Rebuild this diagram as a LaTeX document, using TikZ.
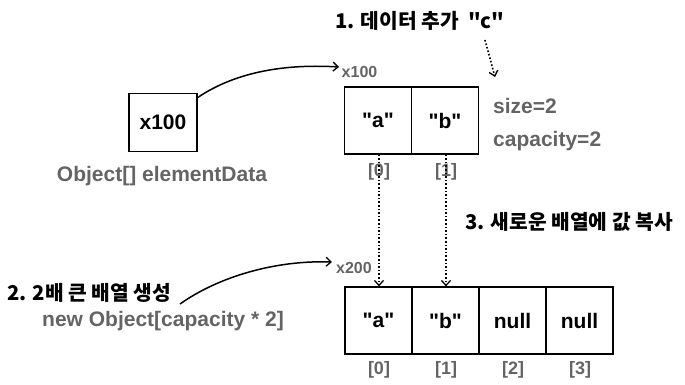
\documentclass[tikz,border=0pt]{standalone}
\usepackage{fontspec}
\setmainfont{Liberation Sans}[Ligatures=TeXOff]
\newfontfamily\kr{Noto Sans CJK KR}[Ligatures=TeXOff]
\usetikzlibrary{arrows.meta}
\definecolor{txtgray}{HTML}{646464}
\begin{document}
\begin{tikzpicture}[x=1pt,y=-1pt,
  cell/.style={draw=black,line width=1.2pt,minimum width=67pt,minimum height=67pt,inner sep=0pt,
    font=\fontsize{21}{21}\selectfont\bfseries},
  graylbl/.style={text=txtgray,inner sep=0pt,font=\fontsize{21}{21}\selectfont\bfseries},
  idx/.style={text=txtgray,inner sep=0pt,font=\fontsize{18}{18}\selectfont\bfseries},
  addr/.style={text=txtgray,inner sep=0pt,font=\fontsize{16}{16}\selectfont\bfseries},
  heading/.style={text=black,inner sep=0pt,anchor=west,font=\kr\fontsize{20.3}{20.3}\selectfont\bfseries},
  tip/.style={-{Straight Barb[length=5pt,width=9pt,line width=1.3pt]}},
  curvearrow/.style={tip,line width=1.5pt},
  dotarrow/.style={tip,line width=1.6pt,dotted}]
\useasboundingbox (0,0) rectangle (685,384);
% reference box
\node[cell,minimum width=68pt,minimum height=58pt] (ref) at (163,122.5) {x100};
\node[graylbl] (refname) at (162,176) {Object[] elementData};
% old array
\node[addr] (addr1) at (359.5,72) {x100};
\node[cell] (o0) at (378,120.5) {"a"};
\node[cell] (o1) at (445,120.5) {"b"};
\node[graylbl,anchor=west] (size) at (493,106) {size=2};
\node[graylbl,anchor=west] (cap) at (493,141) {capacity=2};
\node[idx] (oi0) at (379,172) {[0]};
\node[idx] (oi1) at (446,172) {[1]};
% new array
\node[addr] (addr2) at (354,268) {x200};
\node[cell] (n0) at (378.5,320.5) {"a"};
\node[cell] (n1) at (445.5,320.5) {"b"};
\node[cell] (n2) at (512.5,320.5) {null};
\node[cell] (n3) at (579.5,320.5) {null};
\node[idx] (ni0) at (379,370) {[0]};
\node[idx] (ni1) at (446,370) {[1]};
\node[idx] (ni2) at (513,370) {[2]};
\node[idx] (ni3) at (580,370) {[3]};
% headings
\node[heading] (h1) at (335,21) {1. 데이터 추가 \ "c"};
\node[heading] (h2) at (7,293) {2. 2배 큰 배열 생성};
\node[graylbl] (newobj) at (163,321) {new Object[capacity * 2]};
\node[heading] (h3) at (465,222) {3. 새로운 배열에 값 복사};
% connectors
\coordinate (c1s) at (197,98);
\coordinate (c1e) at (339,67);
\draw[curvearrow] (c1s) .. controls (238,70) and (290,64) .. (c1e);
\coordinate (c2s) at (180,304);
\coordinate (c2e) at (332,262);
\draw[curvearrow] (c2s) .. controls (218,277) and (275,260) .. (c2e);
\coordinate (cs) at (485,40);
\coordinate (ce) at (495,77);
\draw[dotarrow] (cs) -- (ce);
\draw[dotarrow] (o0.south -| oi0) -- (n0.north -| oi0);
\draw[dotarrow] (o1.south -| oi1) -- (n1.north -| oi1);
\end{tikzpicture}
\end{document}
